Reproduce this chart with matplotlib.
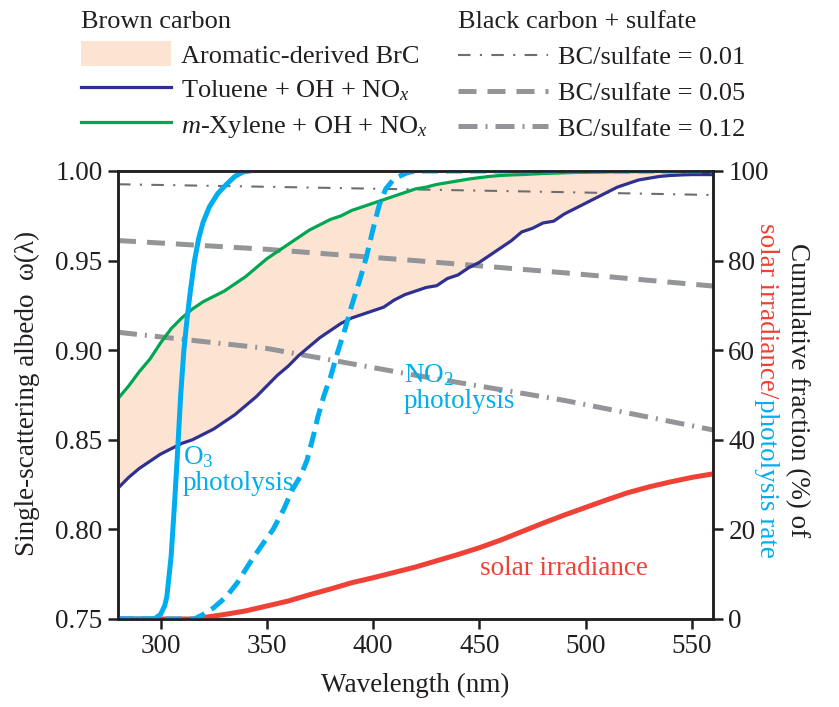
import matplotlib
matplotlib.use("Agg")
import matplotlib.pyplot as plt
from matplotlib.lines import Line2D
from matplotlib.patches import Patch
import numpy as np

plt.rcParams['font.family'] = ['Liberation Serif', 'DejaVu Serif']
plt.rcParams['mathtext.fontset'] = 'custom'
plt.rcParams['mathtext.rm'] = 'Liberation Serif'
plt.rcParams['mathtext.it'] = 'Liberation Serif:italic'
plt.rcParams['font.size'] = 19.5

# ---- brown carbon single-scattering albedo (5 nm grid) ----
wl_brc = np.arange(280, 561, 5)
toluene = [0.823, 0.829, 0.834, 0.838, 0.842, 0.845, 0.848, 0.850, 0.853, 0.856,
           0.860, 0.864, 0.869, 0.874, 0.880, 0.886, 0.891, 0.897, 0.902, 0.907,
           0.911, 0.915, 0.918, 0.920, 0.922, 0.924, 0.928, 0.931, 0.933, 0.935,
           0.936, 0.940, 0.942, 0.946, 0.949, 0.953, 0.957, 0.961, 0.966, 0.968,
           0.971, 0.972, 0.976, 0.979, 0.982, 0.985, 0.988, 0.991, 0.993, 0.995,
           0.996, 0.997, 0.9975, 0.9978, 0.998, 0.998, 0.998]
xylene = [0.873, 0.880, 0.888, 0.895, 0.904, 0.912, 0.918, 0.923, 0.927, 0.930,
          0.933, 0.937, 0.941, 0.946, 0.951, 0.955, 0.959, 0.963, 0.967, 0.970,
          0.973, 0.975, 0.978, 0.980, 0.982, 0.984, 0.986, 0.988, 0.990, 0.991,
          0.9925, 0.9935, 0.9945, 0.9955, 0.9963, 0.997, 0.9975, 0.9978, 0.998, 0.9983,
          0.9986, 0.9988, 0.999, 0.9992, 0.9993, 0.9994, 0.9995, 0.9996, 0.9996, 0.9997,
          0.9997, 0.9998, 0.9998, 0.9998, 0.9998, 0.9998, 0.9998]

# ---- black carbon + sulfate ----
wl_bc = [280, 350, 420, 490, 560]
bc_001 = [0.9926, 0.9912, 0.9897, 0.9882, 0.9866]
bc_005 = [0.9612, 0.9563, 0.9500, 0.9432, 0.9358]
bc_012 = [0.9100, 0.9010, 0.8860, 0.8720, 0.8555]

# ---- cumulative fractions (%) ----
wl_o3 = [280, 297, 300, 302, 303, 305, 306.5, 308, 309.5, 311, 312.5, 314, 316,
         318, 320, 323, 327, 331, 335, 339, 342]
o3_phot = [0, 0, 1, 3, 5, 14, 25, 37, 50, 60, 67, 73, 80,
           85, 88.5, 92, 95, 97, 98.8, 99.8, 100]

wl_no2 = [280, 316, 320, 325, 331, 336, 342, 347, 353, 358, 362, 366, 369, 372,
          374, 377, 380, 383, 387, 390, 394, 397, 400, 403, 406, 410, 416, 420, 560]
no2_phot = [0, 0, 1, 2.5, 5, 8, 12.5, 16, 20, 24.5, 28.8, 32, 35.5, 41,
            45, 50, 54, 59, 65, 70, 76, 81, 87, 92.5, 96, 98.3, 99.6, 100, 100]

wl_sun = [280, 315, 320, 330, 340, 350, 360, 370, 380, 390, 400, 410, 420, 430,
          440, 450, 460, 470, 480, 490, 500, 510, 520, 530, 540, 550, 560]
solar = [0, 0, 0.3, 1.0, 1.8, 2.9, 4.0, 5.4, 6.7, 8.1, 9.2, 10.4, 11.6, 13.0,
         14.4, 15.9, 17.6, 19.5, 21.4, 23.2, 24.9, 26.6, 28.2, 29.5, 30.6, 31.6, 32.4]

navy = '#2e3192'
green = '#00a651'
cyan = '#00aeef'
red = '#ef4136'
peach = '#fde4d2'
gray = '#939598'
dgray = '#6d6e71'
ink = '#231f20'

fig = plt.figure(figsize=(8.39, 7.07), dpi=100)
ax = fig.add_axes([118 / 839, 1 - 619 / 707, 595 / 839, 448 / 707])

ax.fill_between(wl_brc, toluene, xylene, color=peach, lw=0, zorder=1)
ax.plot(wl_bc, bc_001, color=dgray, lw=1.5, dashes=(6, 4.5, 1, 4.5), zorder=2)
ax.plot(wl_bc, bc_005, color=gray, lw=3.6, dashes=(3.6, 2.2), zorder=2)
ax.plot(wl_bc, bc_012, color=gray, lw=3.6, dashes=(3.8, 1.6, 0.4, 1.6), zorder=2)
ax.plot(wl_brc, toluene, color=navy, lw=2.3, zorder=3)
ax.plot(wl_brc, xylene, color=green, lw=2.3, zorder=3)

ax.set_xlim(280, 560)
ax.set_ylim(0.75, 1.00)
ax.set_xticks(range(300, 551, 50))
ax.set_yticks(np.arange(0.75, 1.001, 0.05))
ax.yaxis.set_major_formatter(matplotlib.ticker.FormatStrFormatter('%.2f'))

ax2 = ax.twinx()
ax2.plot(wl_sun, solar, color=red, lw=3.6, solid_capstyle='butt')
ax2.plot(wl_no2, no2_phot, color=cyan, lw=3.6, dashes=(3.2, 1.6))
ax2.plot(wl_o3, o3_phot, color=cyan, lw=3.6)
ax2.set_ylim(0, 100)
ax2.set_yticks(range(0, 101, 20))

for a in (ax, ax2):
    for s in a.spines.values():
        s.set_linewidth(1.8)
        s.set_color(ink)
    a.tick_params(direction='out', length=7, width=1.8, color=ink,
                  labelcolor=ink, pad=4, labelsize=19.5)

ax.set_xlabel('Wavelength (nm)', labelpad=10, color=ink)
fig.text(0.033, 0.443, 'Single-scattering albedo  ω(λ)', rotation=90,
         ha='center', va='center', color=ink)

# right axis label: two lines, second one in two colours
fig.text(0.950, 0.448, 'Cumulative fraction (%) of', rotation=270,
         ha='center', va='center', color=ink)
xr = 0.913
p1 = fig.text(xr, 0.5, 'solar irradiance/', rotation=270, ha='center', va='top', color=red)
p2 = fig.text(xr, 0.5, 'photolysis rate', rotation=270, ha='center', va='top', color=cyan)
fig.canvas.draw()
r = fig.canvas.get_renderer()
h1 = p1.get_window_extent(r).height / fig.bbox.height
h2 = p2.get_window_extent(r).height / fig.bbox.height
top = 0.448 + (h1 + h2) / 2
p1.set_y(top)
p2.set_y(top - h1)

# curve labels
ax.text(310.6, 0.8475, 'O$_3$\nphotolysis', color=cyan, ha='left', va='top', linespacing=1.05)
ax.text(414.5, 0.8935, 'NO$_2$\nphotolysis', color=cyan, ha='left', va='top', linespacing=1.05)
ax.text(450.5, 0.778, 'solar irradiance', color=red, ha='left', va='center')

# legends
h_brc = [Patch(facecolor=peach, edgecolor='none'),
         Line2D([], [], color=navy, lw=2.3),
         Line2D([], [], color=green, lw=2.3)]
l_brc = ['Aromatic-derived BrC', 'Toluene + OH + NO$_{x}$', '$m$-Xylene + OH + NO$_{x}$']
leg1 = fig.legend(h_brc, l_brc, title='Brown carbon', loc='upper left',
                  bbox_to_anchor=(81 / 839, 1 - 11 / 707), frameon=False, alignment='left',
                  handlelength=3.4, handleheight=1.05, handletextpad=0.4,
                  labelspacing=0.32, borderpad=0, borderaxespad=0,
                  fontsize=19, title_fontsize=19)

h_bc = [Line2D([], [], color=dgray, lw=1.5, dashes=(6, 4.5, 1, 4.5)),
        Line2D([], [], color=gray, lw=3.6, dashes=(3.6, 2.2)),
        Line2D([], [], color=gray, lw=3.6, dashes=(3.8, 1.6, 0.4, 1.6))]
l_bc = ['BC/sulfate = 0.01', 'BC/sulfate = 0.05', 'BC/sulfate = 0.12']
leg2 = fig.legend(h_bc, l_bc, title='Black carbon + sulfate', loc='upper left',
                  bbox_to_anchor=(458 / 839, 1 - 11 / 707), frameon=False, alignment='left',
                  handlelength=3.4, handletextpad=0.4,
                  labelspacing=0.47, borderpad=0, borderaxespad=0,
                  fontsize=19, title_fontsize=19)
for leg in (leg1, leg2):
    for t in leg.get_texts():
        t.set_color(ink)
    leg.get_title().set_color(ink)

fig.savefig('out.png', dpi=100)
